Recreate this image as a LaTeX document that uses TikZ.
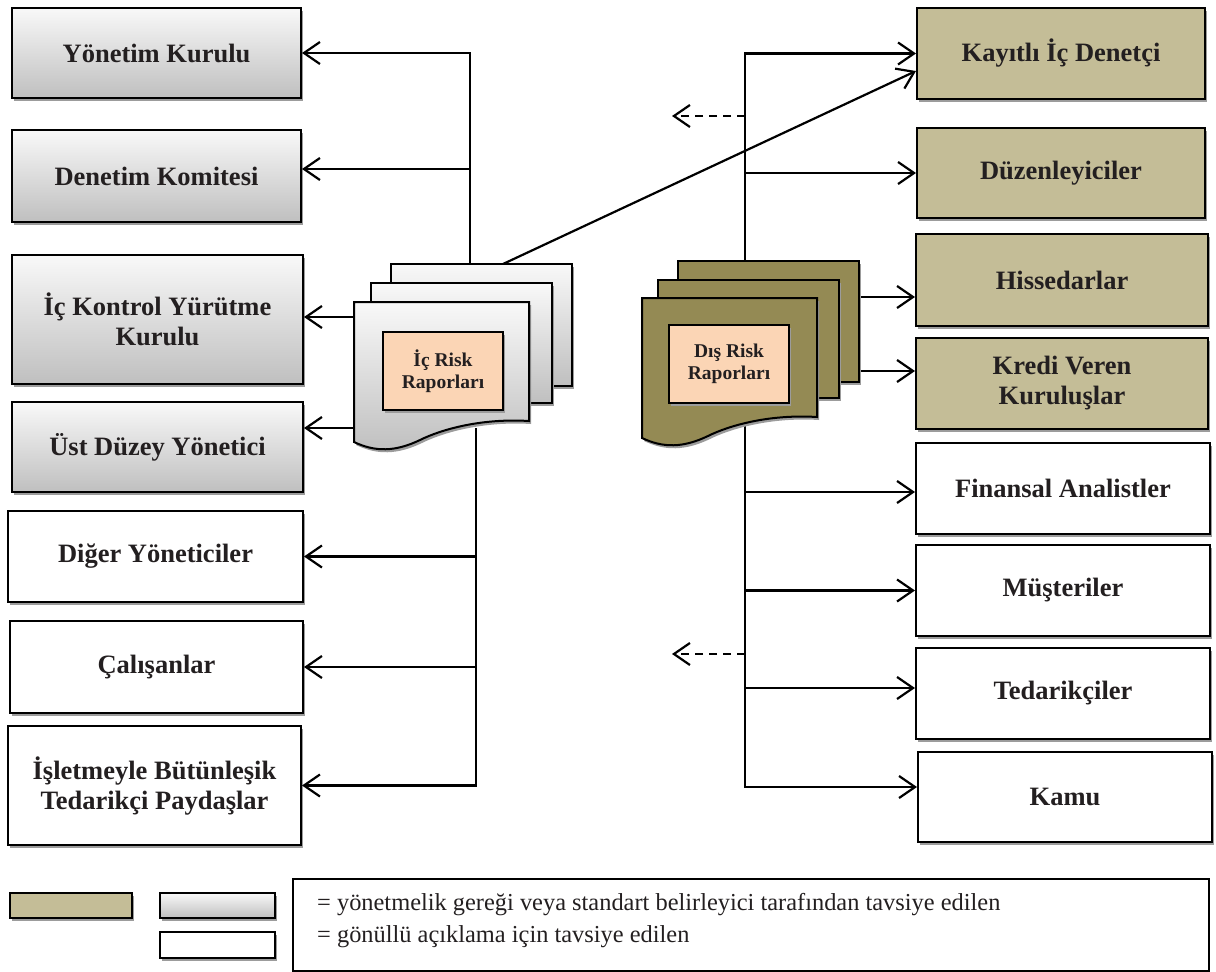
\documentclass[tikz,border=0pt]{standalone}
\usepackage{fontspec}
\setmainfont{Liberation Serif}
\usetikzlibrary{arrows.meta,shadows,calc}

\definecolor{tanfill}{HTML}{C4BD97}
\definecolor{olivedoc}{HTML}{948A54}
\definecolor{peach}{HTML}{FBD5B5}
\definecolor{shadowgray}{HTML}{9C9C9C}
\definecolor{inktext}{HTML}{231F20}

\tikzset{
  boxshadow/.style={general shadow={shadow xshift=2pt,shadow yshift=-3pt,fill=shadowgray}},
  basebox/.style={draw=black, line width=2pt, text=inktext, align=center, inner sep=0pt,
    font=\bfseries\fontsize{26.5}{30}\selectfont, boxshadow},
  greybox/.style={basebox, top color=gray!5, bottom color=gray!50},
  tanbox/.style={basebox, fill=tanfill},
  whitebox/.style={basebox, fill=white},
  greypage/.style={draw=black, line width=2pt, top color=gray!5, bottom color=gray!50, boxshadow},
  olivepage/.style={draw=black, line width=2pt, fill=olivedoc, boxshadow},
  labelbox/.style={draw=black, line width=2pt, fill=peach, text=inktext, align=center,
    inner sep=0pt, minimum width=120pt, minimum height=78pt,
    font=\bfseries\fontsize{19.5}{21.5}\selectfont, boxshadow},
  link/.style={line width=2.2pt},
  arr/.style={link, -{Straight Barb[length=16pt,width=22pt,line width=2.2pt]}},
  dasharr/.style={arr, dash pattern=on 8pt off 6pt},
}

\begin{document}
\begin{tikzpicture}[x=1pt,y=-1pt]
\useasboundingbox (0,0) rectangle (1216,972);

% ---- recipient boxes, left column
\node[greybox, minimum width=289pt, minimum height=90pt]  (L1) at (156.5,53)    {Yönetim Kurulu};
\node[greybox, minimum width=289pt, minimum height=92pt]  (L2) at (156.5,176)   {Denetim Komitesi};
\node[greybox, minimum width=291pt, minimum height=129pt] (L3) at (157.5,319.5) {İç Kontrol Yürütme\\Kurulu};
\node[greybox, minimum width=291pt, minimum height=90pt]  (L4) at (157.5,447)   {Üst Düzey Yönetici};
\node[whitebox, minimum width=295pt, minimum height=91pt] (L5) at (155.5,556.5) {Diğer Yöneticiler};
\node[whitebox, minimum width=293pt, minimum height=92pt] (L6) at (156.5,667)   {Çalışanlar};
\node[whitebox, minimum width=293pt, minimum height=119pt](L7) at (154.5,785.5) {İşletmeyle Bütünleşik\\Tedarikçi Paydaşlar};

% ---- recipient boxes, right column
\node[tanbox, minimum width=288pt, minimum height=91pt]   (R1) at (1061,53.5)  {Kayıtlı İç Denetçi};
\node[tanbox, minimum width=288pt, minimum height=90pt]   (R2) at (1061,173)   {Düzenleyiciler};
\node[tanbox, minimum width=292pt, minimum height=92pt]   (R3) at (1062,280)   {Hissedarlar};
\node[tanbox, minimum width=292pt, minimum height=91pt]   (R4) at (1062,383.5) {Kredi Veren\\Kuruluşlar};
\node[whitebox, minimum width=294pt, minimum height=91pt] (R5) at (1063,488.5) {Finansal Analistler};
\node[whitebox, minimum width=294pt, minimum height=91pt] (R6) at (1063,590.5) {Müşteriler};
\node[whitebox, minimum width=294pt, minimum height=91pt] (R7) at (1063,693.5) {Tedarikçiler};
\node[whitebox, minimum width=294pt, minimum height=90pt] (R8) at (1065,797)   {Kamu};

% ---- junction points on the report stacks
\coordinate (itop)  at (470,264);
\coordinate (idiag) at (503,264);
\coordinate (j3)    at (354,317);
\coordinate (j4)    at (354,428);
\coordinate (ibot)  at (476,428);
\coordinate (dtop)  at (745,261);
\coordinate (jd1)   at (745,116);
\coordinate (dl1)   at (672,116);
\coordinate (jh)    at (859,297);
\coordinate (jk)    at (859,371);
\coordinate (dbot)  at (745,424);
\coordinate (j5)    at (745,492);
\coordinate (j7)    at (745,688);
\coordinate (j8)    at (745,787);
\coordinate (jd2)   at (745,654);
\coordinate (dl2)   at (672,654);
\coordinate (j2)    at ($(itop |- L2.east)+(0,-7)$);
\coordinate (kd)    at ($(R1.west)+(0,17.5)$);

% ---- internal reports: connectors
\draw[arr] (itop) |- (L1.east);
\draw[arr] (j2) -- (j2 -| L2.east);
\draw[arr] (j3) -- (j3 -| L3.east);
\draw[arr] (j4) -- (j4 -| L4.east);
\draw[arr] (ibot) |- (L7.east);
\draw[arr] (ibot |- L5.east) -- (L5.east);
\draw[arr] (ibot |- L6.east) -- (L6.east);
\draw[arr] (idiag) -- (kd);

% ---- external reports: connectors
\draw[arr] (dtop) |- (R1.west);
\draw[arr] (dtop |- R2.west) -- (R2.west);
\draw[dasharr] (jd1) -- (dl1);
\draw[arr] (jh) -- (jh -| R3.west);
\draw[arr] (jk) -- (jk -| R4.west);
\draw[arr] (dbot) |- (j8 -| R8.west);
\draw[arr] (j5) -- (j5 -| R5.west);
\draw[arr] (dbot |- R6.west) -- (R6.west);
\draw[arr] (j7) -- (j7 -| R7.west);
\draw[dasharr] (jd2) -- (dl2);

% ---- internal report stack
\path[greypage] (391,264) rectangle (572,386);
\path[greypage] (371,283) rectangle (552,403);
\path[greypage] (354,302) -- (529,302) -- (529,421)
  .. controls (480,418) and (440,430) .. (420,440)
  .. controls (395,452) and (375,452) .. (354,442) -- cycle;
\node[labelbox] (irep) at (443,371) {İç Risk\\Raporları};

% ---- external report stack
\path[olivepage] (678,261) rectangle (859,382);
\path[olivepage] (658,280) rectangle (839,398);
\path[olivepage] (642,298) -- (817,298) -- (817,417)
  .. controls (768,414) and (728,426) .. (708,436)
  .. controls (683,448) and (663,448) .. (642,438) -- cycle;
\node[labelbox] (drep) at (729,364) {Dış Risk\\Raporları};

% ---- legend
\node[tanbox, minimum width=122pt, minimum height=25pt]   (legA) at (71,905.5)   {};
\node[greybox, minimum width=115pt, minimum height=25pt]  (legB) at (217.5,905.5) {};
\node[whitebox, minimum width=115pt, minimum height=26pt] (legC) at (217.5,945)   {};
\draw[line width=1.5pt] (293,879) rectangle (1209,971);
\node[anchor=west, inner sep=0pt, text=inktext, font=\fontsize{24.4}{28}\selectfont] (legT1) at (317,905)
  {= yönetmelik gereği veya standart belirleyici tarafından tavsiye edilen};
\node[anchor=west, inner sep=0pt, text=inktext, font=\fontsize{24.4}{28}\selectfont] (legT2) at (317,937)
  {= gönüllü açıklama için tavsiye edilen};
\end{tikzpicture}
\end{document}
